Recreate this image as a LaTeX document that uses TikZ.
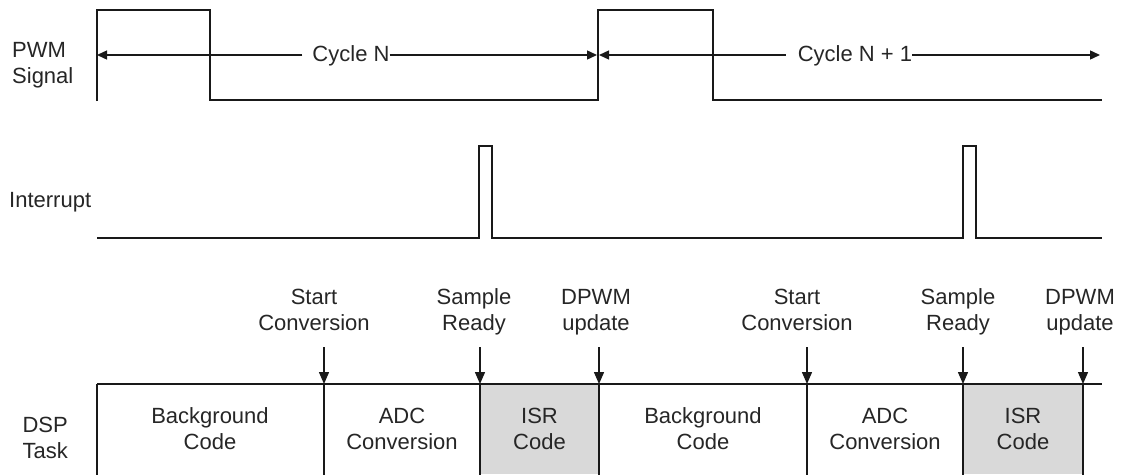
\documentclass[tikz,border=0pt]{standalone}
\usepackage{fontspec}
\setmainfont{Liberation Sans}
\usetikzlibrary{arrows.meta}

\begin{document}
\begin{tikzpicture}[x=1pt,y=-1pt,
  wave/.style={line width=1.6pt, line join=miter, draw=black!90},
  lbl/.style={inner sep=0pt, font=\fontsize{22}{25.5}\selectfont, text=black!85},
  inline/.style={lbl, text height=16pt, text depth=4pt},
  twoline/.style={lbl, anchor=base, align=center},
  cyc/.style={line width=1.4pt, draw=black!90, -{Triangle[length=10pt,width=9pt]}},
  evt/.style={line width=1.4pt, draw=black!90, -{Triangle[length=12pt,width=10pt]}},
  isr/.style={fill=black!15}]
\useasboundingbox (0,0) rectangle (1122,474);

% ---------- PWM signal ----------
% (base anchor of a multi-line node sits on its last line)
\node[lbl, anchor=base west, align=left] (pwmlbl) at (12,83) {PWM\\Signal};
\coordinate (p0) at (97,101);
\coordinate (p1) at (97,10);
\coordinate (p2) at (210,10);
\coordinate (p3) at (210,100);
\coordinate (p4) at (598,100);
\coordinate (p5) at (598,10);
\coordinate (p6) at (713,10);
\coordinate (p7) at (713,100);
\coordinate (p8) at (1102,100);
\draw[wave] (p0) -- (p1) -- (p2) -- (p3) -- (p4) -- (p5) -- (p6) -- (p7) -- (p8);

% cycle span arrows
\coordinate (cNa) at (97,55);
\coordinate (cNb) at (597,55);
\coordinate (cMa) at (599,55);
\coordinate (cMb) at (1100,55);
\node[inline] (cN) at (351,55) {Cycle N};
\node[inline] (cM) at (855,55) {Cycle N + 1};
\draw[cyc] ([xshift=-10pt]cN.west) -- (cNa);
\draw[cyc] (cN.east) -- (cNb);
\draw[cyc] ([xshift=-12pt]cM.west) -- (cMa);
\draw[cyc] (cM.east) -- (cMb);

% ---------- Interrupt ----------
\node[lbl, anchor=base west] (intlbl) at (9,207) {Interrupt};
\coordinate (i0) at (97,238);
\coordinate (i1) at (479,238);
\coordinate (i2) at (479,146);
\coordinate (i3) at (492,146);
\coordinate (i4) at (492,238);
\coordinate (i5) at (963,238);
\coordinate (i6) at (963,146);
\coordinate (i7) at (976,146);
\coordinate (i8) at (976,238);
\coordinate (i9) at (1102,238);
\draw[wave] (i0) -- (i1) -- (i2) -- (i3) -- (i4) -- (i5) -- (i6) -- (i7) -- (i8) -- (i9);

% ---------- DSP task timeline ----------
\node[lbl, anchor=base east, align=right] (dsplbl) at (68,458) {DSP\\Task};
\fill[isr] (480,384) rectangle (599,474);
\fill[isr] (963,384) rectangle (1083,474);

\coordinate (t0) at (97,384);
\coordinate (t1) at (324,384);
\coordinate (t2) at (480,384);
\coordinate (t3) at (599,384);
\coordinate (t4) at (807,384);
\coordinate (t5) at (963,384);
\coordinate (t6) at (1083,384);
\coordinate (tE) at (1102,384);
\draw[wave] (t0) -- (tE);
\foreach \c in {t0,t1,t2,t3,t4,t5,t6}
  \draw[wave] (\c) -- ++(0,91);

% task names
\node[twoline] (bg1) at (210,449) {Background\\Code};
\node[twoline] (adc1) at (402,449) {ADC\\Conversion};
\node[twoline] (isr1) at (539.5,449) {ISR\\Code};
\node[twoline] (bg2) at (703,449) {Background\\Code};
\node[twoline] (adc2) at (885,449) {ADC\\Conversion};
\node[twoline] (isr2) at (1023,449) {ISR\\Code};

% event markers
\node[twoline] (sc1) at (314,330) {Start\\Conversion};
\node[twoline] (sr1) at (474,330) {Sample\\Ready};
\node[twoline] (du1) at (596,330) {DPWM\\update};
\node[twoline] (sc2) at (797,330) {Start\\Conversion};
\node[twoline] (sr2) at (958,330) {Sample\\Ready};
\node[twoline] (du2) at (1080,330) {DPWM\\update};

\foreach \c/\x in {e1/324,e2/480,e3/599,e4/807,e5/963,e6/1083}
  \coordinate (\c) at (\x,347);
\draw[evt] (e1) -- (t1);
\draw[evt] (e2) -- (t2);
\draw[evt] (e3) -- (t3);
\draw[evt] (e4) -- (t4);
\draw[evt] (e5) -- (t5);
\draw[evt] (e6) -- (t6);
\end{tikzpicture}
\end{document}
